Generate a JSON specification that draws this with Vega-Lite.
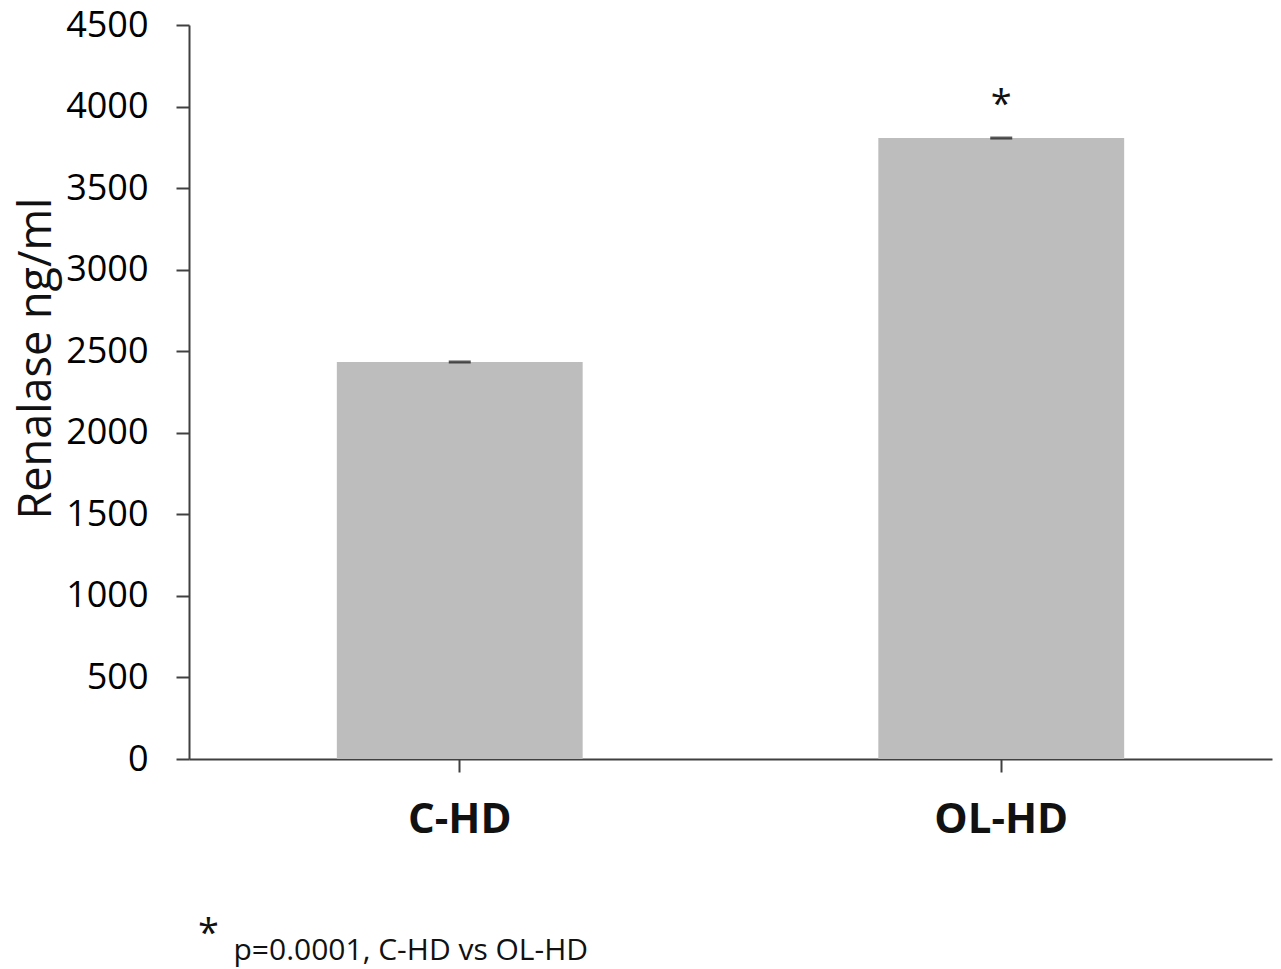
{
  "$schema": "https://vega.github.io/schema/vega-lite/v6.json",
  "width": 1083,
  "height": 734,
  "autosize": {"type": "none"},
  "padding": {"left": 189, "top": 25, "right": 9, "bottom": 210},
  "background": "white",
  "config": {"view": {"stroke": null}, "font": "Open Sans"},
  "title": {
    "text": "*",
    "orient": "bottom",
    "anchor": "start",
    "frame": "group",
    "dx": 9,
    "offset": -49,
    "fontSize": 38,
    "fontWeight": "normal",
    "color": "#111111",
    "font": "Open Sans"
  },
  "data": {
    "values": [
      {"group": "C-HD", "renalase": 2434, "sig": ""},
      {"group": "OL-HD", "renalase": 3807, "sig": "*"}
    ]
  },
  "encoding": {
    "x": {
      "field": "group",
      "type": "nominal",
      "sort": null,
      "scale": {"paddingInner": 0.546, "paddingOuter": 0.273},
      "axis": {
        "domainColor": "#404040",
        "domainWidth": 2,
        "tickColor": "#404040",
        "tickWidth": 2,
        "tickSize": 13,
        "labelFontSize": 42,
        "labelFontWeight": "bold",
        "labelColor": "#111111",
        "labelPadding": 27,
        "labelAngle": 0,
        "title": "p=0.0001, C-HD vs OL-HD",
        "titleFontSize": 30,
        "titleFontWeight": "normal",
        "titleColor": "#111111",
        "titleAnchor": "start",
        "titleAlign": "left",
        "titleX": 44,
        "titleY": 200,
        "titleBaseline": "alphabetic"
      }
    },
    "y": {
      "field": "renalase",
      "type": "quantitative",
      "scale": {"domain": [0, 4500], "nice": false},
      "axis": {
        "values": [0, 500, 1000, 1500, 2000, 2500, 3000, 3500, 4000, 4500],
        "format": "d",
        "grid": false,
        "domainColor": "#404040",
        "domainWidth": 2,
        "tickColor": "#404040",
        "tickWidth": 2,
        "tickSize": 13,
        "labelFontSize": 36,
        "labelFontWeight": 500,
        "labelColor": "#000000",
        "labelPadding": 28,
        "title": "Renalase ng/ml",
        "titleFontSize": 45,
        "titleFontWeight": "normal",
        "titleColor": "#111111",
        "titleAngle": -90,
        "titleAlign": "center",
        "titleBaseline": "alphabetic",
        "titleX": -139,
        "titleY": 333
      }
    }
  },
  "layer": [
    {"mark": {"type": "bar", "color": "#bdbdbd"}},
    {"mark": {"type": "tick", "color": "#111111", "thickness": 3, "size": 22}},
    {
      "mark": {"type": "text", "fontSize": 38, "dy": -21, "baseline": "alphabetic", "color": "#111111"},
      "encoding": {"text": {"field": "sig"}}
    }
  ]
}
